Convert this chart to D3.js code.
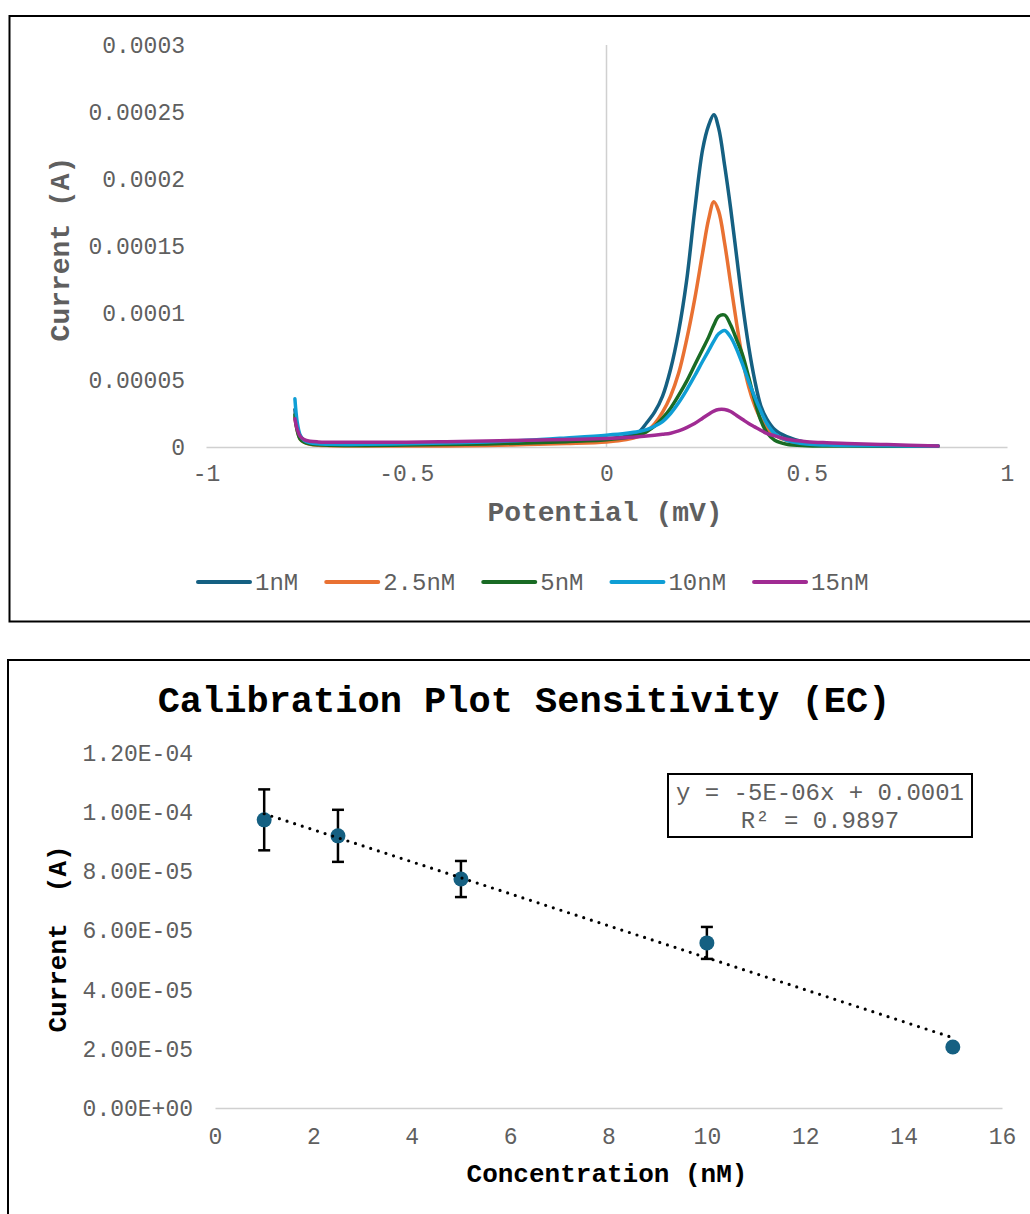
<!DOCTYPE html>
<html><head><meta charset="utf-8">
<script src="https://cdn.jsdelivr.net/npm/d3@7"></script>
<style>
body{margin:0;background:#fff}
svg{display:block}
text{font-family:'Liberation Mono','Courier New',monospace}
</style>
</head><body>
<svg id="c" width="1030" height="1214"></svg>
<script>
// ---------- Top chart data: potential (mV) and current (µA) per concentration ----------
const potential = [-0.778,-0.772,-0.765,-0.755,-0.74,-0.72,-0.69,-0.65,-0.6,-0.5,-0.4,-0.3,-0.2,-0.1,0,0.05,0.08,0.1,0.12,0.14,0.16,0.18,0.2,0.22,0.24,0.255,0.268,0.28,0.295,0.31,0.325,0.34,0.355,0.37,0.385,0.4,0.42,0.45,0.5,0.55,0.6,0.7,0.828];
const cur1nM   = [28,14,8,5,3.5,2.5,2,1.8,1.7,1.8,2.2,2.8,3.5,4.5,6,8,11,17.9,26,38,58,86,124,176,222,240,248,238,210,178,142,106,75,50,31,21,13,7.7,3.2,2,1.5,1,0.8];
const cur2_5nM = [22,12,6,3.5,2,1.3,1,0.8,0.7,0.7,0.8,1.2,1.8,2.6,3.8,5.5,8,11.5,17.3,26,38,55,80,110,145,170,183,176,152,122,92,65,45,31,21,14.5,9,5,2.5,1.7,1.3,1,0.8];
const cur5nM   = [24,12,6,3.5,2.2,1.6,1.3,1.2,1.2,1.4,1.8,2.3,3,4,5.5,7,9,11.5,15.5,21.5,29,38.5,49,61,73,82,91,97.5,98.5,91,80,68.5,52,35,20,11,5,2,1,0.8,0.7,0.6,0.6];
const cur10nM  = [36,18,9,5,3.2,2.4,2,1.9,2,2.4,3,3.8,5,6.8,8.8,10.2,11.5,13,15.5,19,25,33,42.5,53,64,72,79,84.5,87,82,73,61.5,49,37.5,27,17.7,10,5,2.2,1.4,1.1,0.9,0.7];
const cur15nM  = [21,13,8,5.5,4.3,3.8,3.6,3.5,3.5,3.6,4,4.5,5,5.6,6.4,7,7.6,8.2,8.8,9.5,10.3,12,14.5,17.5,21.5,24.5,26.8,28,28,26.5,23.5,20.5,17.5,15,12.5,10.2,8.3,5.8,4,3.2,2.7,1.8,0.8];
const seriesNames = ["1nM","2.5nM","5nM","10nM","15nM"];
const seriesValues = [cur1nM,cur2_5nM,cur5nM,cur10nM,cur15nM];
const seriesColors = ["#156082","#E97132","#196B24","#0F9ED5","#A02B93"];
const topXTicks = [-1,-0.5,0,0.5,1];
const topXTickLabels = ["-1","-0.5","0","0.5","1"];
const topYTickLabels = ["0","0.00005","0.0001","0.00015","0.0002","0.00025","0.0003"];

// ---------- Bottom chart data ----------
const concentration = [1,2.5,5,10,15];
const currentMean = [9.74e-5,9.2e-5,7.74e-5,5.58e-5,2.06e-5];
const currentErr  = [1.03e-5,0.88e-5,0.61e-5,0.54e-5,0.05e-5];
const calXTicks = [0,2,4,6,8,10,12,14,16];
const calYTickLabels = ["0.00E+00","2.00E-05","4.00E-05","6.00E-05","8.00E-05","1.00E-04","1.20E-04"];
const equationLines = ["y = -5E-06x + 0.0001","R\u00B2 = 0.9897"];

const svg = d3.select("#c");
const gray = "#5f5f5f";

// ================= TOP CHART =================
svg.append("rect").attr("x",9.5).attr("y",16).attr("width",1040).attr("height",605.5)
  .attr("fill","#fff").attr("stroke","#000").attr("stroke-width",2);

const xT = d3.scaleLinear().domain([-1,1]).range([206,1007]);
const yT = d3.scaleLinear().domain([0,0.0003]).range([447,45]);

const gxT = svg.append("g").attr("transform",`translate(0,${yT(0)})`)
  .call(d3.axisBottom(xT).tickValues(topXTicks).tickFormat((d,i)=>topXTickLabels[i]).tickSize(0).tickSizeOuter(0).tickPadding(18));
gxT.select(".domain").attr("stroke","#d0d0d0").attr("stroke-width",1.5);
gxT.selectAll("text").attr("font-size",23).attr("fill",gray).attr("font-family","'Liberation Mono',monospace");

const gyT = svg.append("g").attr("transform",`translate(${xT(-1)},0)`)
  .call(d3.axisLeft(yT).tickValues(topYTickLabels.map(Number)).tickFormat((d,i)=>topYTickLabels[i]).tickSize(0).tickPadding(21));
gyT.select(".domain").remove();
gyT.selectAll("text").attr("font-size",23).attr("fill",gray).attr("font-family","'Liberation Mono',monospace");

// vertical axis through 0
svg.append("line").attr("x1",xT(0)).attr("x2",xT(0)).attr("y1",yT(0)).attr("y2",yT(0.0003))
  .attr("stroke","#d0d0d0").attr("stroke-width",1.5);

const lineT = d3.line().x((d,i)=>xT(potential[i])).y(d=>yT(d*1e-6)).curve(d3.curveCatmullRom.alpha(0.5));
seriesValues.forEach((vals,k)=>{
  svg.append("path").datum(vals).attr("d",lineT).attr("fill","none")
    .attr("stroke",seriesColors[k]).attr("stroke-width",3.5)
    .attr("stroke-linejoin","round").attr("stroke-linecap","round");
});

svg.append("text").attr("x",605).attr("y",521).attr("text-anchor","middle")
  .attr("font-size",28).attr("font-weight","bold").attr("fill",gray).text("Potential (mV)");
svg.append("text").attr("transform","translate(69,249) rotate(-90)").attr("text-anchor","middle")
  .attr("font-size",28).attr("font-weight","bold").attr("fill",gray).text("Current (A)");

// legend
let lx = 198;
seriesNames.forEach((name,k)=>{
  svg.append("line").attr("x1",lx).attr("x2",lx+52).attr("y1",582).attr("y2",582)
    .attr("stroke",seriesColors[k]).attr("stroke-width",4).attr("stroke-linecap","round");
  const t = svg.append("text").attr("x",lx+57).attr("y",590).attr("font-size",24).attr("fill",gray).text(name);
  lx += 57 + t.node().getComputedTextLength() + 28;
});

// ================= BOTTOM CHART =================
svg.append("rect").attr("x",8).attr("y",660).attr("width",1040).attr("height",600)
  .attr("fill","#fff").attr("stroke","#000").attr("stroke-width",2);

svg.append("text").attr("x",524).attr("y",712).attr("text-anchor","middle")
  .attr("font-size",37).attr("font-weight","bold").attr("fill","#000").text("Calibration Plot Sensitivity (EC)");

const xB = d3.scaleLinear().domain([0,16]).range([215,1002]);
const yB = d3.scaleLinear().domain([0,1.2e-4]).range([1108,753]);

const gxB = svg.append("g").attr("transform",`translate(0,${yB(0)})`)
  .call(d3.axisBottom(xB).tickValues(calXTicks).tickFormat(d3.format("d")).tickSize(0).tickSizeOuter(0).tickPadding(20));
gxB.select(".domain").attr("stroke","#d0d0d0").attr("stroke-width",1.5);
gxB.selectAll("text").attr("font-size",23).attr("fill",gray).attr("font-family","'Liberation Mono',monospace");

const gyB = svg.append("g").attr("transform",`translate(${xB(0)},0)`)
  .call(d3.axisLeft(yB).tickValues(calYTickLabels.map(Number)).tickFormat((d,i)=>calYTickLabels[i]).tickSize(0).tickPadding(22));
gyB.select(".domain").remove();
gyB.selectAll("text").attr("font-size",23).attr("fill",gray).attr("font-family","'Liberation Mono',monospace");

// error bars
const pts = concentration.map((c,i)=>({x:c,y:currentMean[i],e:currentErr[i]}));
const eb = svg.append("g").attr("stroke","#000").attr("stroke-width",2.5);
pts.forEach(p=>{
  eb.append("line").attr("x1",xB(p.x)).attr("x2",xB(p.x)).attr("y1",yB(p.y+p.e)).attr("y2",yB(p.y-p.e));
  eb.append("line").attr("x1",xB(p.x)-6).attr("x2",xB(p.x)+6).attr("y1",yB(p.y+p.e)).attr("y2",yB(p.y+p.e));
  eb.append("line").attr("x1",xB(p.x)-6).attr("x2",xB(p.x)+6).attr("y1",yB(p.y-p.e)).attr("y2",yB(p.y-p.e));
});
svg.append("g").selectAll("circle").data(pts).join("circle")
  .attr("cx",d=>xB(d.x)).attr("cy",d=>yB(d.y)).attr("r",7.5).attr("fill","#156082");

// linear trendline (least squares)
const mx = d3.mean(concentration), my = d3.mean(currentMean);
const slope = d3.sum(concentration,(c,i)=>(c-mx)*(currentMean[i]-my))/d3.sum(concentration,c=>(c-mx)*(c-mx));
const icpt = my - slope*mx;
const x0 = d3.min(concentration), x1 = d3.max(concentration);
svg.append("line").attr("x1",xB(x0)).attr("y1",yB(icpt+slope*x0)).attr("x2",xB(x1)).attr("y2",yB(icpt+slope*x1))
  .attr("stroke","#000").attr("stroke-width",3.2).attr("stroke-linecap","round").attr("stroke-dasharray","0 8");

// equation box
svg.append("rect").attr("x",668).attr("y",774).attr("width",304).attr("height",63)
  .attr("fill","#fff").attr("stroke","#000").attr("stroke-width",2);
equationLines.forEach((s,i)=>{
  svg.append("text").attr("x",820).attr("y",800+i*28).attr("text-anchor","middle")
    .attr("font-size",24).attr("fill",gray).text(s);
});

svg.append("text").attr("x",607).attr("y",1182).attr("text-anchor","middle")
  .attr("font-size",26).attr("font-weight","bold").attr("fill","#000").text("Concentration (nM)");
svg.append("text").attr("transform","translate(66,939) rotate(-90)").attr("text-anchor","middle")
  .style("white-space","pre")
  .attr("font-size",26).attr("font-weight","bold").attr("fill","#000").text("Current  (A)");
</script>
</body></html>
